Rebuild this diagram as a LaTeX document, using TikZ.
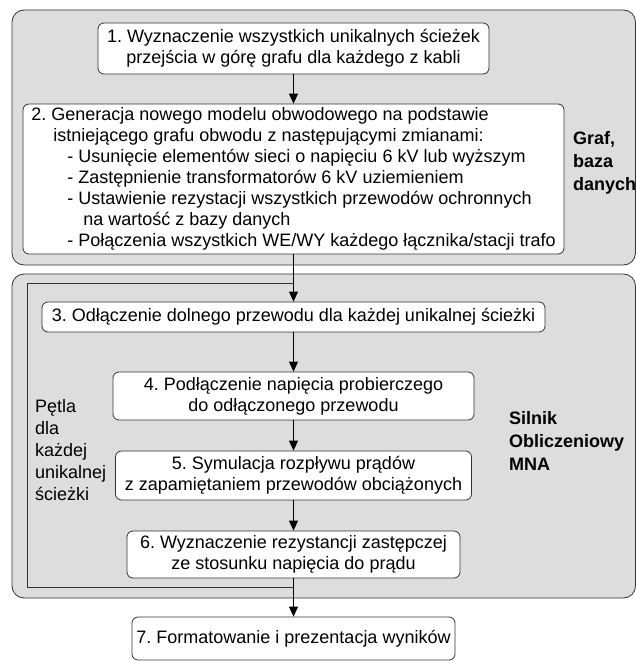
\documentclass[tikz,border=0pt]{standalone}
\usepackage{fontspec}
\setmainfont{Liberation Sans}
\usetikzlibrary{arrows.meta}
\definecolor{groupfill}{HTML}{DDDDDD}
\definecolor{edge}{HTML}{333333}

\begin{document}
\begin{tikzpicture}[x=1pt,y=-1pt,
  font=\fontsize{18}{21}\selectfont\frenchspacing,
  box/.style={draw=edge,fill=white,rounded corners=6pt,line width=.8pt,align=center,inner sep=0pt},
  grp/.style={draw=edge,fill=groupfill,rounded corners=12pt,line width=.8pt},
  arr/.style={-{Triangle[length=10pt,width=9pt]},line width=.8pt},
  loopline/.style={draw=edge,line width=.8pt},
  side/.style={anchor=north west,inner sep=0pt,align=left,font=\fontsize{18}{23}\selectfont\bfseries}]
\useasboundingbox (0,0) rectangle (636,661);
% grupy
\draw[grp] (12,10) rectangle (635.5,265);
\draw[grp] (12,274) rectangle (635.5,598);
% kroki
\node[box,minimum width=391pt,minimum height=51pt] (s1) at (293.5,48.5)
  {1. Wyznaczenie wszystkich unikalnych ścieżek\\przejścia w górę grafu dla każdego z kabli};
\node[box,align=left,minimum width=541pt,minimum height=150pt] (s2) at (293.5,179)
  {2. Generacja nowego modelu obwodowego na podstawie\\
   \hspace*{22pt}istniejącego grafu obwodu z następującymi zmianami:\\
   \hspace*{36pt}- Usunięcie elementów sieci o napięciu 6 kV lub wyższym\\
   \hspace*{36pt}- Zastępnienie transformatorów 6 kV uziemieniem\\
   \hspace*{36pt}- Ustawienie rezystacji wszystkich przewodów ochronnych\\
   \hspace*{52pt}na wartość z bazy danych\\
   \hspace*{36pt}- Połączenia wszystkich WE/WY każdego łącznika/stacji trafo};
\node[box,minimum width=503pt,minimum height=30pt] (s3) at (293.5,317)
  {3. Odłączenie dolnego przewodu dla każdej unikalnej ścieżki};
\node[box,minimum width=361pt,minimum height=48pt] (s4) at (293.5,396)
  {4. Podłączenie napięcia probierczego\\do odłączonego przewodu};
\node[box,minimum width=356pt,minimum height=49pt] (s5) at (293.5,475.5)
  {5. Symulacja rozpływu prądów\\z zapamiętaniem przewodów obciążonych};
\node[box,minimum width=333pt,minimum height=47pt] (s6) at (293.5,554.5)
  {6. Wyznaczenie rezystancji zastępczej\\ze stosunku napięcia do prądu};
\node[box,minimum width=323pt,minimum height=43pt] (s7) at (293.5,638.5)
  {7. Formatowanie i prezentacja wyników};
% petla
\coordinate (lt) at (293.5,283);
\coordinate (lb) at (293.5,587);
\coordinate (lx) at (27,0);
\draw[loopline] (lt) -- (lt -| lx) -- (lb -| lx) -- (lb);
\foreach \a/\b in {s1/s2,s2/s3,s3/s4,s4/s5,s5/s6,s6/s7}
  \draw[arr] (\a) -- (\b);
% opisy
\node[side] (db) at (573,131) {Graf,\\baza\\danych};
\node[side] (mna) at (509,411) {Silnik\\Obliczeniowy\\MNA};
\node[side,font=\fontsize{18}{22}\selectfont] (petla) at (35,399)
  {Pętla\\dla\\każdej\\unikalnej\\ścieżki};
\end{tikzpicture}
\end{document}
